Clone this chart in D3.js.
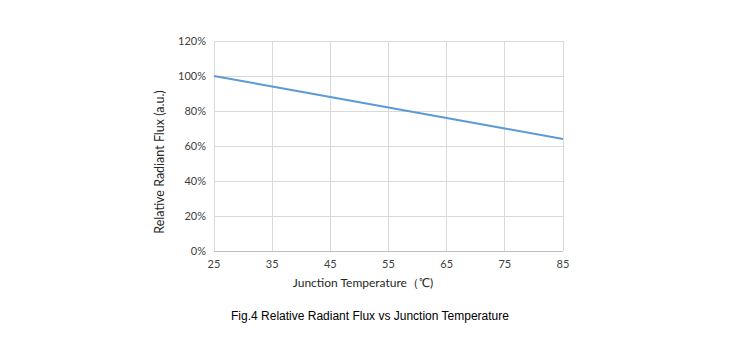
<!DOCTYPE html>
<html><head><meta charset="utf-8">
<script src="https://cdn.jsdelivr.net/npm/d3@7"></script>
<style>body{margin:0;background:#fff;}svg{display:block;}</style>
</head><body>
<svg id="c" width="750" height="352"></svg>
<script>
const temps = [25, 35, 45, 55, 65, 75, 85];
const flux = [100, 94, 88, 82, 76, 70, 64];
const yTicks = [0, 20, 40, 60, 80, 100, 120];
const xLabel = "Junction Temperature（℃)";
const yLabel = "Relative Radiant Flux (a.u.)";
const caption = "Fig.4 Relative Radiant Flux vs Junction Temperature";

const svg = d3.select("#c");
const x = d3.scaleLinear().domain([25, 85]).range([214, 563]);
const y = d3.scaleLinear().domain([0, 120]).range([251, 41]);
const tickFont = "Lato, 'Open Sans', sans-serif";

const g = svg.append("g");
g.selectAll(".hg").data(yTicks.filter(d => d > 0)).join("line")
  .attr("x1", x(25)).attr("x2", x(85)).attr("y1", d => y(d)).attr("y2", d => y(d))
  .attr("stroke", "#d9d9d9").attr("stroke-width", 1).attr("shape-rendering", "crispEdges");
g.selectAll(".vg").data(temps).join("line")
  .attr("x1", d => x(d)).attr("x2", d => x(d)).attr("y1", y(0)).attr("y2", y(120))
  .attr("stroke", "#d9d9d9").attr("stroke-width", 1).attr("shape-rendering", "crispEdges");
g.append("line").attr("x1", x(25)).attr("x2", x(85)).attr("y1", y(0)).attr("y2", y(0))
  .attr("stroke", "#bfbfbf").attr("shape-rendering", "crispEdges");

g.selectAll(".yt").data(yTicks).join("text")
  .attr("x", x(25) - 8).attr("y", d => y(d)).attr("dy", "0.35em")
  .attr("text-anchor", "end").attr("font-family", tickFont).attr("font-size", 11)
  .attr("fill", "#404040").text(d => d + "%");
g.selectAll(".xt").data(temps).join("text")
  .attr("x", d => x(d)).attr("y", y(0) + 17)
  .attr("text-anchor", "middle").attr("font-family", tickFont).attr("font-size", 11)
  .attr("fill", "#404040").text(d => d);

const line = d3.line().x((d, i) => x(temps[i])).y(d => y(d));
g.append("path").datum(flux).attr("d", line).attr("fill", "none")
  .attr("stroke", "#5b9bd5").attr("stroke-width", 2);

g.append("text").attr("x", 363).attr("y", 287).attr("text-anchor", "middle")
  .attr("font-family", tickFont).attr("font-size", 12).attr("fill", "#262626").text(xLabel);
g.append("text").attr("transform", "translate(164,162) rotate(-90)").attr("text-anchor", "middle")
  .attr("font-family", tickFont).attr("font-size", 12.5).attr("fill", "#262626").text(yLabel);
g.append("text").attr("x", 370).attr("y", 320).attr("text-anchor", "middle")
  .attr("font-family", "'Liberation Sans', Arial, sans-serif").attr("font-size", 12)
  .attr("fill", "#000").text(caption);
</script>
</body></html>
